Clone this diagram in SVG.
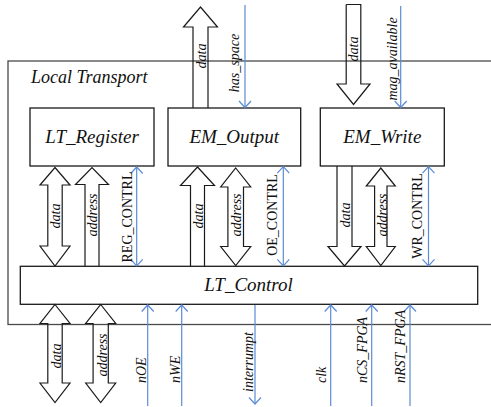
<svg xmlns="http://www.w3.org/2000/svg" width="491" height="407" viewBox="0 0 491 407">
  <style>
    .frame { fill: none; stroke: #4a4a4a; stroke-width: 1.3; }
    .box { fill: #ffffff; stroke: #1a1a1a; stroke-width: 1.3; }
    .bus { fill: none; stroke: #1a1a1a; stroke-width: 1.2; stroke-linejoin: miter; }
    .sig { fill: none; stroke: #5b8bd4; stroke-width: 1.2; }
    .title { font-family: "Liberation Serif", "DejaVu Serif", serif; font-style: italic; font-size: 19px; fill: #111; text-anchor: middle; }
    .frame-title { font-family: "Liberation Serif", "DejaVu Serif", serif; font-style: italic; font-size: 18px; fill: #111; }
    .lbl { font-family: "Liberation Serif", "DejaVu Serif", serif; font-style: italic; font-size: 14px; fill: #111; }
    .lbl-up { font-family: "Liberation Serif", "DejaVu Serif", serif; font-size: 14px; fill: #111; }
    .mid { text-anchor: middle; dominant-baseline: central; }
    .st { text-anchor: start; dominant-baseline: central; }
  </style>
  <defs>
    <marker id="chev" viewBox="-8 -8 10 16" refX="0" refY="0" markerWidth="10" markerHeight="16" markerUnits="userSpaceOnUse" orient="auto-start-reverse">
      <path d="M-6.5,-6 L0,0 L-6.5,6" fill="none" stroke="#5b8bd4" stroke-width="1.2"/>
    </marker>
  </defs>

  <!-- enclosing block -->
  <g id="local-transport">
    <rect class="frame" x="8" y="61" width="486" height="263.5"/>
    <text class="frame-title" x="31" y="83">Local Transport</text>
  </g>

  <g id="lt-register">
    <rect class="box" x="30" y="108" width="124" height="58"/>
    <text class="title" x="92" y="143">LT_Register</text>
  </g>

  <g id="em-output">
    <rect class="box" x="168" y="108" width="132.7" height="58"/>
    <text class="title" x="234.3" y="143">EM_Output</text>
  </g>

  <g id="em-write">
    <rect class="box" x="320.3" y="108" width="124" height="58"/>
    <text class="title" x="382.3" y="143">EM_Write</text>
  </g>

  <g id="lt-control">
    <rect class="box" x="20.3" y="266.3" width="457.4" height="38"/>
    <text class="title" x="248.5" y="291">LT_Control</text>
  </g>

  <g id="connectors">
    <!-- block (bus) arrows -->
    <!-- EM_Output data out, top -->
    <polyline class="bus" points="193,108 193,27 183.5,27 200.5,7 217.5,27 208,27 208,108"/>
    <!-- EM_Write data in, top -->
    <polyline class="bus" points="346.2,4.5 346.2,84 337,84 353.5,104.5 370,84 360.8,84 360.8,4.5 346.2,4.5"/>
    <!-- LT_Register data, both ways -->
    <polygon class="bus" points="55,167.5 70,185 62.2,185 62.2,246 70,246 55,266 40,246 47.8,246 47.8,185 40,185"/>
    <!-- LT_Register address, upward -->
    <polyline class="bus" points="85,266 85,184.5 75.5,184.5 92,167.5 108.5,184.5 99,184.5 99,266"/>
    <!-- EM_Output data, upward -->
    <polyline class="bus" points="190.5,266 190.5,185.5 180.5,185.5 197.5,167 214.5,185.5 204.5,185.5 204.5,266"/>
    <!-- EM_Output address, both ways -->
    <polygon class="bus" points="235.7,168 250.7,187 243.5,187 243.5,246.5 250.7,246.5 235.7,265.5 220.7,246.5 227.9,246.5 227.9,187 220.7,187"/>
    <!-- EM_Write data, downward -->
    <polyline class="bus" points="337,166 337,246.5 328,246.5 344.5,266 361,246.5 352,246.5 352,166"/>
    <!-- EM_Write address, both ways -->
    <polygon class="bus" points="380.8,168 395.3,186 387,186 387,246.5 395.3,246.5 380.8,265.5 366.3,246.5 374.6,246.5 374.6,186 366.3,186"/>
    <!-- external data, both ways -->
    <polygon class="bus" points="55,304.5 70,323.5 62.2,323.5 62.2,383 70,383 55,402.5 40,383 47.8,383 47.8,323.5 40,323.5"/>
    <!-- external address, both ways -->
    <polygon class="bus" points="100.7,304.5 115.7,323.5 108.3,323.5 108.3,383 115.7,383 100.7,402.5 85.7,383 93.1,383 93.1,323.5 85.7,323.5"/>

    <!-- control signals -->
    <line class="sig" x1="245" y1="5" x2="245" y2="107.5" marker-end="url(#chev)"/>
    <line class="sig" x1="400.7" y1="6" x2="400.7" y2="107.5" marker-end="url(#chev)"/>
    <line class="sig" x1="136.7" y1="167" x2="136.7" y2="265.8" marker-start="url(#chev)" marker-end="url(#chev)"/>
    <line class="sig" x1="283.3" y1="166.7" x2="283.3" y2="265.8" marker-start="url(#chev)" marker-end="url(#chev)"/>
    <line class="sig" x1="428.5" y1="166.7" x2="428.5" y2="265.8" marker-start="url(#chev)" marker-end="url(#chev)"/>
    <line class="sig" x1="147.7" y1="406" x2="147.7" y2="305" marker-end="url(#chev)"/>
    <line class="sig" x1="181.7" y1="406" x2="181.7" y2="305" marker-end="url(#chev)"/>
    <line class="sig" x1="255" y1="305" x2="255" y2="404" marker-end="url(#chev)"/>
    <line class="sig" x1="330.7" y1="406" x2="330.7" y2="305" marker-end="url(#chev)"/>
    <line class="sig" x1="371.7" y1="406" x2="371.7" y2="305" marker-end="url(#chev)"/>
    <line class="sig" x1="410" y1="406" x2="410" y2="305" marker-end="url(#chev)"/>

    <!-- connector labels -->
    <text class="lbl mid" transform="translate(201.5,56) rotate(-90)">data</text>
    <text class="lbl mid" transform="translate(234,63) rotate(-90)">has_space</text>
    <text class="lbl mid" transform="translate(353,49) rotate(-90)">data</text>
    <text class="lbl mid" transform="translate(392,59) rotate(-90)">mag_available</text>

    <text class="lbl mid" transform="translate(55,216) rotate(-90)">data</text>
    <text class="lbl mid" transform="translate(92.5,215) rotate(-90)">address</text>
    <text class="lbl-up mid" transform="translate(127,217) rotate(-90)">REG_CONTRL</text>
    <text class="lbl mid" transform="translate(198,216) rotate(-90)">data</text>
    <text class="lbl mid" transform="translate(236,215) rotate(-90)">address</text>
    <text class="lbl-up mid" transform="translate(272.5,215) rotate(-90)">OE_CONTRL</text>
    <text class="lbl mid" transform="translate(345,215) rotate(-90)">data</text>
    <text class="lbl mid" transform="translate(382,215) rotate(-90)">address</text>
    <text class="lbl-up mid" transform="translate(417,216) rotate(-90)">WR_CONTRL</text>

    <text class="lbl mid" transform="translate(56,356) rotate(-90)">data</text>
    <text class="lbl mid" transform="translate(102,355) rotate(-90)">address</text>
    <text class="lbl st" transform="translate(141,383) rotate(-90)">nOE</text>
    <text class="lbl st" transform="translate(175,383) rotate(-90)">nWE</text>
    <text class="lbl st" transform="translate(248,392) rotate(-90)">interrumpt</text>
    <text class="lbl st" transform="translate(321.5,383) rotate(-90)">clk</text>
    <text class="lbl st" transform="translate(362,383) rotate(-90)">nCS_FPGA</text>
    <text class="lbl st" transform="translate(400.5,383) rotate(-90)">nRST_FPGA</text>
  </g>
</svg>
